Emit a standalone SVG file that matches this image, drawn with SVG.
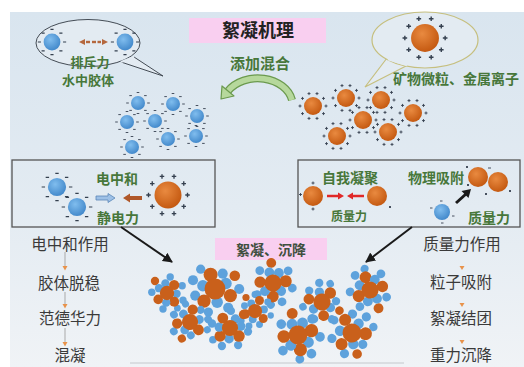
<svg xmlns="http://www.w3.org/2000/svg" xmlns:xlink="http://www.w3.org/1999/xlink" width="524" height="367" viewBox="0 0 524 367">
<style>
  .cn { font-family: "Noto Sans CJK SC", "Noto Sans", sans-serif; }
  .lbl { font-weight: 700; fill: #47773a; text-anchor: middle; }
  .step { font-size: 15.5px; fill: #3a3a3a; text-anchor: middle; }
  .frame { fill: none; stroke: #555; stroke-width: 1.3; }
  .pink { fill: #f9cff0; }
  .o { fill: #c9601b; }
  .b { fill: #5ea2dc; }
  .mark { stroke: #35404f; stroke-width: 0.9; fill: none; }
  .conn { stroke: #1a1a1a; stroke-width: 2; fill: none; }
</style>
<defs>
  <linearGradient id="bg" x1="0" y1="0" x2="0" y2="1">
    <stop offset="0" stop-color="#d9e5ef"/>
    <stop offset="0.55" stop-color="#e3ebf2"/>
    <stop offset="1" stop-color="#f0f3f6"/>
  </linearGradient>
  <radialGradient id="gB" cx="0.4" cy="0.35" r="0.7">
    <stop offset="0" stop-color="#80bdee"/>
    <stop offset="1" stop-color="#3f86c9"/>
  </radialGradient>
  <radialGradient id="gO" cx="0.4" cy="0.35" r="0.7">
    <stop offset="0" stop-color="#e98a40"/>
    <stop offset="1" stop-color="#c2560e"/>
  </radialGradient>
  <marker id="ah" viewBox="0 0 10 10" refX="9" refY="5" markerWidth="5" markerHeight="5" orient="auto">
    <path d="M0 0 L10 5 L0 10 z" fill="#1a1a1a"/>
  </marker>
  <!-- negatively charged colloid -->
  <g id="bneg">
    <circle r="7" fill="url(#gB)"/>
    <path class="mark" d="M9.2 0h2.6 M6.1 7.4h2.6 M-1.3 10.5h2.6 M-8.7 7.4h2.6 M-11.8 0h2.6 M-8.7 -7.4h2.6 M-1.3 -10.5h2.6 M6.1 -7.4h2.6"/>
  </g>
  <!-- positively charged particle -->
  <g id="opos">
    <circle r="9" fill="url(#gO)"/>
    <path class="mark" d="M11.5 0h3M13 -1.5v3 M9 7.6h3M10.5 6.1v3 M2.5 12.4h3M4 10.9v3 M-5.5 12.4h3M-4 10.9v3 M-12 7.6h3M-10.5 6.1v3 M-14.5 0h3M-13 -1.5v3 M-12 -7.6h3M-10.5 -9.1v3 M-5.5 -12.4h3M-4 -13.9v3 M2.5 -12.4h3M4 -13.9v3 M9 -7.6h3M10.5 -9.1v3"/>
  </g>
  <!-- flocs -->
  <g id="flocA">
    <circle class="b" cx="-19" cy="-1" r="4.6"/>
    <circle class="o" cx="-15" cy="-15" r="5.2"/>
    <circle class="b" cx="4" cy="-20" r="4.6"/>
    <circle class="b" cx="19" cy="-9" r="4.6"/>
    <circle class="b" cx="20" cy="9" r="4.6"/>
    <circle class="b" cx="-5" cy="20" r="4.6"/>
    <circle class="b" cx="13" cy="19" r="4.2"/>
    <circle class="b" cx="-10" cy="-6" r="5.2"/>
    <circle class="b" cx="-2" cy="-12" r="5.2"/>
    <circle class="o" cx="9" cy="-10" r="6.4"/>
    <circle class="b" cx="12" cy="1" r="5.2"/>
    <circle class="o" cx="9" cy="11" r="6.2"/>
    <circle class="b" cx="-1" cy="12" r="5.2"/>
    <circle class="o" cx="-11" cy="8" r="6"/>
    <circle class="o" cx="0" cy="0" r="9"/>
  </g>
  <g id="flocB">
    <circle class="b" cx="-18" cy="6" r="4.6"/>
    <circle class="b" cx="-20" cy="-8" r="4.6"/>
    <circle class="o" cx="18" cy="-12" r="4.8"/>
    <circle class="b" cx="22" cy="0" r="4.6"/>
    <circle class="b" cx="12" cy="17" r="4.6"/>
    <circle class="b" cx="-6" cy="21" r="4.2"/>
    <circle class="b" cx="-13" cy="-18" r="4.2"/>
    <circle class="b" cx="10" cy="-5" r="5.2"/>
    <circle class="b" cx="-11" cy="-3" r="5.2"/>
    <circle class="o" cx="-4" cy="-13" r="6.4"/>
    <circle class="b" cx="7" cy="-14" r="4.6"/>
    <circle class="o" cx="14" cy="6" r="6"/>
    <circle class="b" cx="2" cy="12" r="5.2"/>
    <circle class="o" cx="-10" cy="11" r="6"/>
    <circle class="o" cx="0" cy="0" r="9.5"/>
  </g>
</defs>

<!-- panel -->
<rect width="524" height="367" fill="#ffffff"/>
<rect x="10" y="12" width="514" height="355" fill="url(#bg)"/>
<line x1="130" y1="363" x2="404" y2="363" stroke="#c4c8cc" stroke-width="1"/>

<!-- title -->
<g id="title">
  <rect class="pink" x="189" y="18" width="137" height="25"/>
  <text class="cn" x="258" y="37" font-size="18" font-weight="700" fill="#222" text-anchor="middle">絮凝机理</text>
</g>

<!-- colloids in water: repulsion bubble -->
<g id="bubble-colloid">
  <path d="M121 62 L163 76 L134 57" fill="#e3ebf2" stroke="#444c55" stroke-width="1"/>
  <ellipse cx="88" cy="43" rx="52" ry="23.5" fill="#e3ebf2" stroke="#444c55" stroke-width="1"/>
  <path d="M121 62 L134 57" stroke="#e3ebf2" stroke-width="2"/>
  <use href="#bneg" xlink:href="#bneg" transform="translate(52 42) scale(1.2)"/>
  <use href="#bneg" xlink:href="#bneg" transform="translate(125 42) scale(1.2)"/>
  <g fill="#b5683e">
    <polygon points="79,42 85,39 85,45"/>
    <rect x="86" y="40.8" width="4" height="2.4"/>
    <rect x="92" y="40.8" width="4" height="2.4"/>
    <rect x="97.5" y="40.8" width="3.5" height="2.4"/>
    <polygon points="108,42 102,39 102,45"/>
  </g>
  <text class="cn lbl" x="90" y="67" font-size="13">排斥力</text>
  <text class="cn lbl" x="88" y="85" font-size="13">水中胶体</text>
</g>

<!-- mineral particles / metal ions bubble -->
<g id="bubble-mineral">
  <path d="M387 58 L365 87 L408 65" fill="#e3ebf2" stroke="#c6bf7e" stroke-width="1.2"/>
  <ellipse cx="425" cy="40" rx="53" ry="28" fill="#e3ebf2" stroke="#c6bf7e" stroke-width="1.2"/>
  <path d="M388 59 L407 65" stroke="#e3ebf2" stroke-width="2.5"/>
  <use href="#opos" xlink:href="#opos" transform="translate(425 38) scale(1.55)"/>
  <text class="cn lbl" x="456" y="84" font-size="14">矿物微粒、金属离子</text>
</g>

<!-- mixing arrow -->
<g id="mixing">
  <text class="cn lbl" x="260" y="69" font-size="15">添加混合</text>
  <path d="M292 100 A35 27 0 0 0 228 91" fill="none" stroke="#6b9a4e" stroke-width="8"/>
  <path d="M292 100 A35 27 0 0 0 228 91" fill="none" stroke="#b6d89c" stroke-width="5.5"/>
  <polygon points="221,99 234,96 222,86" fill="#b6d89c" stroke="#6b9a4e" stroke-width="1.2" stroke-linejoin="round"/>
</g>

<!-- dispersed colloids -->
<g id="colloids">
  <use href="#bneg" xlink:href="#bneg" x="138" y="103"/>
  <use href="#bneg" xlink:href="#bneg" x="173" y="104"/>
  <use href="#bneg" xlink:href="#bneg" x="127" y="122"/>
  <use href="#bneg" xlink:href="#bneg" x="155" y="121"/>
  <use href="#bneg" xlink:href="#bneg" x="197" y="116"/>
  <use href="#bneg" xlink:href="#bneg" x="168" y="139"/>
  <use href="#bneg" xlink:href="#bneg" x="196" y="136"/>
  <use href="#bneg" xlink:href="#bneg" x="132" y="147"/>
</g>

<!-- dispersed mineral particles -->
<g id="minerals">
  <use href="#opos" xlink:href="#opos" x="313" y="106"/>
  <use href="#opos" xlink:href="#opos" x="346" y="98"/>
  <use href="#opos" xlink:href="#opos" x="381" y="100"/>
  <use href="#opos" xlink:href="#opos" x="363" y="120"/>
  <use href="#opos" xlink:href="#opos" x="413" y="113"/>
  <use href="#opos" xlink:href="#opos" x="337" y="136"/>
  <use href="#opos" xlink:href="#opos" x="388" y="132"/>
</g>

<!-- charge neutralisation box -->
<g id="box-neutral">
  <rect class="frame" x="12" y="160" width="203" height="67"/>
  <use href="#bneg" xlink:href="#bneg" transform="translate(57 187) scale(1.3)"/>
  <use href="#bneg" xlink:href="#bneg" transform="translate(77 207) scale(1.3)"/>
  <use href="#opos" xlink:href="#opos" transform="translate(168 195) scale(1.5)"/>
  <polygon points="96,196 108,196 108,193.5 115,198 108,202.5 108,200 96,200" fill="#9dc0e6" stroke="#5a86b8" stroke-width="0.8"/>
  <polygon points="142,196 130,196 130,193.5 123,198 130,202.5 130,200 142,200" fill="#b0582a"/>
  <text class="cn lbl" x="117" y="184" font-size="14">电中和</text>
  <text class="cn lbl" x="118" y="223" font-size="14">静电力</text>
</g>

<!-- self-aggregation / adsorption box -->
<g id="box-mass">
  <rect class="frame" x="298" y="160" width="222" height="67"/>
  <circle cx="313" cy="196" r="10" fill="url(#gO)"/>
  <circle cx="377" cy="196" r="10" fill="url(#gO)"/>
  <path class="mark" d="M311.5 183h3M313 181.5v3 M311.5 209h3M313 207.5v3 M299 194.5h3M300.5 193v3 M389 206l2 2M391 206l-2 2"/>
  <path d="M327 196 H340" stroke="#e02828" stroke-width="2.5"/>
  <polygon points="344,196 338,192.5 338,199.5" fill="#e02828"/>
  <path d="M364 196 H351" stroke="#e02828" stroke-width="2.5"/>
  <polygon points="347,196 353,192.5 353,199.5" fill="#e02828"/>
  <circle cx="478" cy="177" r="10" fill="url(#gO)"/>
  <circle cx="498" cy="182" r="10" fill="url(#gO)"/>
  <path class="mark" d="M466 166l2 2M468 166l-2 2 M485 193l2 2M487 193l-2 2 M509 190l2 2M511 190l-2 2 M467 184l2 2M469 184l-2 2 M488 168h3"/>
  <circle cx="442" cy="212" r="8" fill="url(#gB)"/>
  <path class="mark" d="M430 208h2.5 M452 216h2.5 M440 201h2.5 M441 223h2.5"/>
  <path d="M456 203 L466 194" stroke="#1a1a1a" stroke-width="3"/>
  <polygon points="471,189 468.5,198 461.5,191" fill="#1a1a1a"/>
  <text class="cn lbl" x="350" y="183" font-size="14">自我凝聚</text>
  <text class="cn lbl" x="436" y="183" font-size="14">物理吸附</text>
  <text class="cn lbl" x="349" y="221" font-size="12">质量力</text>
  <text class="cn lbl" x="489" y="223" font-size="14">质量力</text>
</g>

<!-- connectors -->
<g id="connectors">
  <line class="conn" x1="121" y1="227" x2="172" y2="262" marker-end="url(#ah)"/>
  <line class="conn" x1="412" y1="227" x2="366" y2="262" marker-end="url(#ah)"/>
  <g stroke="#a9a9a9" stroke-width="1">
    <line x1="65" y1="252" x2="65" y2="268"/>
    <line x1="65" y1="292" x2="65" y2="306"/>
    <line x1="65" y1="328" x2="65" y2="344"/>
  </g>
  <g fill="#e8924a">
    <polygon points="62.5,266 67.5,266 65,270.5"/>
    <polygon points="62.5,304 67.5,304 65,308.5"/>
    <polygon points="62.5,342 67.5,342 65,346.5"/>
    <polygon points="459.5,266 464.5,266 462,270"/>
    <polygon points="459.5,303 464.5,303 462,307"/>
    <polygon points="459.5,340 464.5,340 462,344"/>
  </g>
</g>

<!-- flocculation / settling -->
<g id="settling">
  <rect class="pink" x="215" y="238" width="112" height="22"/>
  <text class="cn" x="271" y="255" font-size="14" font-weight="700" fill="#3f4f3f" text-anchor="middle">絮凝、沉降</text>
  <use href="#flocA" xlink:href="#flocA" transform="translate(167 293) scale(0.8)"/>
  <use href="#flocB" xlink:href="#flocB" transform="translate(215 289) scale(1.1)"/>
  <use href="#flocA" xlink:href="#flocA" transform="translate(273 283) rotate(40) scale(0.95)"/>
  <use href="#flocB" xlink:href="#flocB" transform="translate(322 302) rotate(60) scale(0.9)"/>
  <use href="#flocA" xlink:href="#flocA" transform="translate(370 290) rotate(200) scale(0.95)"/>
  <use href="#flocB" xlink:href="#flocB" transform="translate(190 322) rotate(150) scale(0.85)"/>
  <use href="#flocB" xlink:href="#flocB" transform="translate(255 311) rotate(270) scale(0.75)"/>
  <use href="#flocA" xlink:href="#flocA" transform="translate(230 328) rotate(90) scale(0.9)"/>
  <use href="#flocA" xlink:href="#flocA" transform="translate(298 335) rotate(30) scale(1.05)"/>
  <use href="#flocB" xlink:href="#flocB" transform="translate(352 333) rotate(110) scale(1)"/>
</g>

<!-- left process column -->
<g id="steps-left">
  <text class="cn step" x="70" y="250">电中和作用</text>
  <text class="cn step" x="69" y="289">胶体脱稳</text>
  <text class="cn step" x="70" y="324">范德华力</text>
  <text class="cn step" x="70" y="361">混凝</text>
</g>

<!-- right process column -->
<g id="steps-right">
  <text class="cn step" x="462" y="250">质量力作用</text>
  <text class="cn step" x="461" y="288">粒子吸附</text>
  <text class="cn step" x="461" y="324">絮凝结团</text>
  <text class="cn step" x="461" y="361">重力沉降</text>
</g>
</svg>
